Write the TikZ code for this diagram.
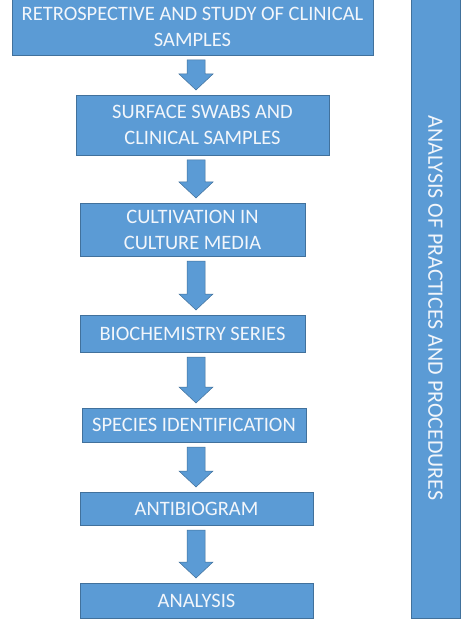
\documentclass[tikz,border=0pt]{standalone}
\usepackage{fontspec}
\setmainfont{Carlito}
\usetikzlibrary{calc}

\definecolor{boxblue}{HTML}{5B9BD5}
\definecolor{boxedge}{HTML}{41719C}
\definecolor{boxtext}{HTML}{F2F6FB}

\tikzset{
  flowbox/.style={fill=boxblue, draw=boxedge, line width=0.8pt, text=boxtext,
    align=center, inner sep=0pt, outer sep=0pt, font=\fontsize{20.5}{26}\selectfont},
  arrowblk/.style={fill=boxblue, draw=boxedge, line width=0.5pt}
}

% fat down arrow from one box to the next
\newcommand{\flowarrow}[2]{%
  \filldraw[arrowblk] let \p1=(#1.south), \p2=(#2.north) in
    (187,\y1-5) -- (205,\y1-5) -- (205,\y2+21) -- (213,\y2+21) -- (196,\y2+5)
    -- (179,\y2+21) -- (187,\y2+21) -- cycle;}

\begin{document}
\begin{tikzpicture}[x=1pt, y=1pt]
  \useasboundingbox (0,0) rectangle (474,-628);
  \fill[white] (0,0) rectangle (474,-628);

  % steps
  \node[flowbox, minimum width=361, minimum height=57] (retro) at (192.5,-26.5)
    {RETROSPECTIVE AND STUDY OF CLINICAL\\SAMPLES};
  \node[flowbox, minimum width=253, minimum height=60] (swabs) at (202.5,-125)
    {SURFACE SWABS AND\\CLINICAL SAMPLES};
  \node[flowbox, minimum width=225, minimum height=53] (cultiv) at (192.5,-229.5)
    {CULTIVATION IN\\CULTURE MEDIA};
  \node[flowbox, minimum width=225, minimum height=37] (biochem) at (192.5,-333.5)
    {BIOCHEMISTRY SERIES};
  \node[flowbox, minimum width=224, minimum height=34] (species) at (194,-425)
    {SPECIES IDENTIFICATION};
  \node[flowbox, minimum width=233, minimum height=33] (antibio) at (196.5,-508.5)
    {ANTIBIOGRAM};
  \node[flowbox, minimum width=233, minimum height=35] (analysis) at (196.5,-600.5)
    {ANALYSIS};

  % side bar
  \node[flowbox, minimum width=49, minimum height=620] (practice) at (435.5,-308) {};
  \node[text=boxtext, font=\fontsize{22}{26}\selectfont, rotate=-90] (practext)
    at (practice.center) {ANALYSIS OF PRACTICES AND PROCEDURES};

  % arrows
  \flowarrow{retro}{swabs}
  \flowarrow{swabs}{cultiv}
  \flowarrow{cultiv}{biochem}
  \flowarrow{biochem}{species}
  \flowarrow{species}{antibio}
  \flowarrow{antibio}{analysis}
\end{tikzpicture}
\end{document}
